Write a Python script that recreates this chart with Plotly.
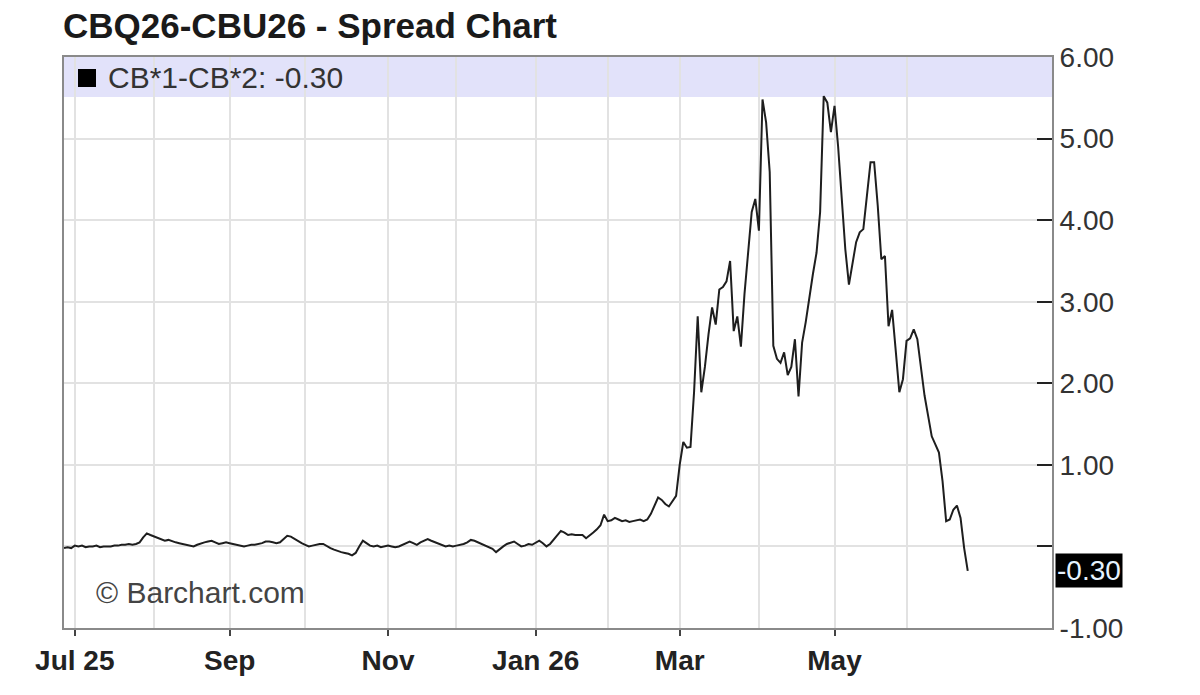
import pandas as pd
import plotly.graph_objects as go

# ---------------- data ----------------
start_date = "2025-06-26"
end_axis_date = "2026-07-31"
holidays = ["2025-07-04", "2025-09-01", "2025-11-27", "2025-12-25", "2026-01-01",
            "2026-01-19", "2026-04-03", "2026-05-25", "2026-06-19", "2026-07-03"]

spread_values = [
    -0.02, -0.01, -0.02, 0.01, 0.00, 0.01, -0.01, 0.00, 0.00, 0.01,
    -0.01, 0.00, 0.00, 0.00, 0.01, 0.01, 0.02, 0.02, 0.03, 0.02,
    0.03, 0.05, 0.11, 0.16, 0.14, 0.12, 0.10, 0.09, 0.07, 0.08,
    0.06, 0.05, 0.04, 0.03, 0.02, 0.01, 0.00, 0.02, 0.04, 0.05,
    0.06, 0.07, 0.05, 0.03, 0.04, 0.05, 0.04, 0.03, 0.02, 0.01,
    0.00, 0.01, 0.02, 0.02, 0.03, 0.04, 0.06, 0.06, 0.05, 0.04,
    0.05, 0.09, 0.13, 0.12, 0.09, 0.07, 0.04, 0.02, 0.00, 0.01,
    0.02, 0.03, 0.03, 0.00, -0.02, -0.04, -0.06, -0.07, -0.08, -0.09,
    -0.11, -0.08, 0.00, 0.07, 0.04, 0.01, 0.00, 0.01, -0.01, 0.00,
    0.01, 0.00, -0.01, 0.00, 0.02, 0.04, 0.06, 0.04, 0.02, 0.05,
    0.07, 0.09, 0.07, 0.05, 0.03, 0.01, 0.00, 0.01, 0.00, 0.01,
    0.02, 0.03, 0.05, 0.08, 0.07, 0.05, 0.03, 0.02, 0.00, -0.03,
    -0.07, -0.03, 0.00, 0.03, 0.05, 0.06, 0.03, 0.00, 0.01, 0.03,
    0.02, 0.05, 0.07, 0.04, 0.00, 0.03, 0.08, 0.13, 0.19, 0.17,
    0.14, 0.15, 0.14, 0.14, 0.14, 0.10, 0.13, 0.17, 0.21, 0.26,
    0.39, 0.31, 0.32, 0.35, 0.33, 0.31, 0.32, 0.30, 0.31, 0.32,
    0.33, 0.31, 0.33, 0.40, 0.50, 0.60, 0.57, 0.52, 0.49, 0.55,
    0.62, 1.00, 1.28, 1.21, 1.22, 1.90, 2.82, 1.89, 2.20, 2.60,
    2.93, 2.72, 3.15, 3.18, 3.25, 3.50, 2.64, 2.82, 2.45, 3.10,
    3.65, 4.10, 4.26, 3.87, 5.48, 5.20, 4.59, 2.46, 2.30, 2.25,
    2.38, 2.10, 2.20, 2.54, 1.84, 2.50, 2.75, 3.07, 3.34, 3.60,
    4.10, 5.52, 5.44, 5.08, 5.40, 4.90, 4.20, 3.64, 3.21, 3.50,
    3.73, 3.85, 3.89, 4.30, 4.71, 4.71, 4.18, 3.52, 3.56, 2.70,
    2.90, 2.40, 1.89, 2.05, 2.52, 2.55, 2.66, 2.54, 2.20, 1.85,
    1.60, 1.35, 1.25, 1.15, 0.80, 0.31, 0.33, 0.45, 0.50, 0.35,
    -0.02, -0.30,
]

y_tick_values = [-1, 0, 1, 2, 3, 4, 5, 6]
y_tick_labels = ["-1.00", "", "1.00", "2.00", "3.00", "4.00", "5.00", "6.00"]
x_label_months = ["2025-07", "2025-09", "2025-11", "2026-01", "2026-03", "2026-05"]
x_label_texts = ["Jul 25", "Sep", "Nov", "Jan 26", "Mar", "May"]
x_grid_months = ["2025-08", "2025-10", "2025-12", "2026-02", "2026-04", "2026-06"]
last_value_text = "-0.30"
title_text = "CBQ26-CBU26 - Spread Chart"
legend_text = "CB*1-CB*2: -0.30"

# trading-day axis
days = pd.bdate_range(start_date, end_axis_date)
days = days[~days.isin(pd.to_datetime(holidays))]
idx = list(range(len(spread_values)))


def first_index(month):
    m = pd.Period(month, "M")
    for i, d in enumerate(days):
        if d.to_period("M") == m:
            return i
    return None


label_pos = [first_index(m) for m in x_label_months]
grid_pos = [first_index(m) for m in x_grid_months]

FONT = "Liberation Sans, Arial, sans-serif"
PW, PH = 988, 571  # plot area size in px

fig = go.Figure()
fig.add_trace(go.Scatter(x=idx, y=spread_values, mode="lines",
                         line=dict(color="#1e1e1e", width=2), hoverinfo="skip",
                         showlegend=False))

# legend band
fig.add_shape(type="rect", xref="paper", yref="paper", x0=0, x1=1,
              y0=1 - 40 / PH, y1=1, fillcolor="#e2e2fa", line=dict(width=0),
              layer="below")
# legend colour square
fig.add_shape(type="rect", xref="paper", yref="paper", x0=14 / PW, x1=32 / PW,
              y0=1 - 30 / PH, y1=1 - 12 / PH, fillcolor="#000",
              line=dict(width=0))

fig.update_layout(
    width=1200, height=695,
    margin=dict(l=64, r=148, t=57, b=67),
    paper_bgcolor="white", plot_bgcolor="white",
    font=dict(family=FONT, color="#333"),
    xaxis=dict(
        range=[0, 274.4],
        tickmode="array", tickvals=label_pos, ticktext=x_label_texts,
        ticks="outside", ticklen=6, tickwidth=2, tickcolor="#444",
        tickfont=dict(family=FONT, size=28, color="#222", weight="bold"),
        showgrid=True, gridcolor="#e2e2e2", gridwidth=1.5,
        minor=dict(tickvals=grid_pos, showgrid=True, gridcolor="#e2e2e2",
                   gridwidth=1.5, ticks=""),
        showline=True, linecolor="#8a8a8a", linewidth=2, mirror=True,
        zeroline=False, fixedrange=True,
    ),
    yaxis=dict(
        range=[-1, 6], side="right",
        tickmode="array", tickvals=y_tick_values, ticktext=y_tick_labels,
        ticks="inside", ticklen=15, tickwidth=2, tickcolor="#222",
        tickfont=dict(family=FONT, size=28, color="#333"),
        showgrid=True, gridcolor="#e2e2e2", gridwidth=1.5,
        showline=True, linecolor="#8a8a8a", linewidth=2, mirror=True,
        zeroline=False, fixedrange=True,
    ),
    annotations=[
        dict(text=title_text, xref="paper", yref="paper", x=-0.003, y=1 + 32 / PH,
             xanchor="left", yanchor="middle", showarrow=False,
             font=dict(family=FONT, size=35, color="#1a1a1a", weight="bold")),
        dict(text=legend_text,
             xref="paper", yref="paper", x=42 / PW, y=1 - 20 / PH,
             xanchor="left", yanchor="middle", showarrow=False,
             font=dict(family=FONT, size=30, color="#333")),
        dict(text="© Barchart.com", xref="paper", yref="y", x=30 / PW, y=-0.56,
             xanchor="left", yanchor="middle", showarrow=False,
             font=dict(family=FONT, size=30, color="#444")),
        dict(text=last_value_text, xref="paper", yref="y", x=1, y=spread_values[-1],
             xanchor="left", yanchor="middle", xshift=3, showarrow=False,
             bgcolor="#000", borderpad=1,
             font=dict(family=FONT, size=28, color="#e6f2ff")),
    ],
)

fig.write_html("out.html")
